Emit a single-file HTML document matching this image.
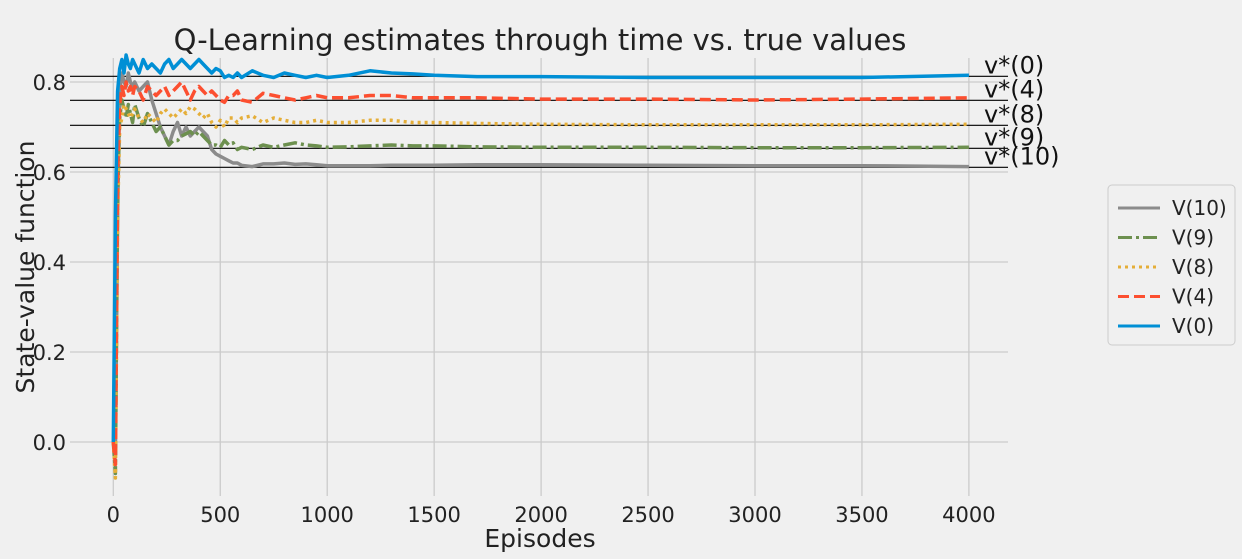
<!DOCTYPE html>
<html><head><meta charset="utf-8"><style>
body{margin:0;background:#f0f0f0;}
svg{display:block;font-family:"DejaVu Sans","Liberation Sans",sans-serif;}
</style></head><body>
<svg id="chart" width="1242" height="559" viewBox="0 0 1242 559">
<rect width="1242" height="559" fill="#f0f0f0"/>
<g id="grid"></g><g id="truelines"></g><g id="series"></g><g id="ticks"></g>
<text x="540" y="50" text-anchor="middle" font-size="29" fill="#222">Q-Learning estimates through time vs. true values</text>
<text x="540" y="547" text-anchor="middle" font-size="25" fill="#222">Episodes</text>
<text transform="translate(34,267) rotate(-90)" text-anchor="middle" font-size="25" fill="#222">State-value function</text>
<g id="legend"></g>
</svg>
<script>
const episodes=[0,10,20,30,40,50,60,70,80,90,100,120,140,160,180,200,220,240,260,280,300,320,340,360,380,400,420,440,460,480,500,520,540,560,580,600,650,700,750,800,850,900,950,1000,1100,1200,1300,1400,1500,1700,2000,2500,3000,3500,4000];
const v0=[0,0.5,0.78,0.83,0.85,0.82,0.86,0.84,0.83,0.85,0.84,0.82,0.85,0.83,0.84,0.83,0.82,0.84,0.85,0.83,0.84,0.85,0.84,0.83,0.84,0.85,0.84,0.83,0.82,0.83,0.825,0.81,0.815,0.81,0.82,0.81,0.825,0.815,0.81,0.82,0.815,0.81,0.815,0.81,0.815,0.825,0.82,0.818,0.815,0.812,0.812,0.81,0.81,0.81,0.815];
const v4=[0,-0.05,0.6,0.75,0.79,0.77,0.8,0.78,0.79,0.77,0.79,0.78,0.76,0.79,0.78,0.77,0.78,0.79,0.77,0.78,0.79,0.8,0.78,0.76,0.78,0.79,0.78,0.77,0.78,0.77,0.76,0.755,0.77,0.77,0.78,0.76,0.755,0.775,0.77,0.765,0.76,0.765,0.77,0.765,0.765,0.77,0.77,0.765,0.765,0.765,0.762,0.762,0.76,0.762,0.765];
const v8=[0,-0.08,0.5,0.7,0.72,0.75,0.74,0.73,0.72,0.73,0.74,0.72,0.71,0.73,0.72,0.71,0.73,0.74,0.73,0.72,0.73,0.74,0.73,0.745,0.74,0.73,0.72,0.73,0.71,0.7,0.715,0.7,0.72,0.72,0.71,0.72,0.725,0.71,0.72,0.715,0.71,0.71,0.715,0.71,0.71,0.715,0.715,0.71,0.71,0.708,0.706,0.705,0.705,0.705,0.706];
const v9=[0,-0.07,0.55,0.72,0.76,0.74,0.72,0.75,0.73,0.71,0.75,0.72,0.7,0.73,0.71,0.69,0.7,0.68,0.66,0.67,0.67,0.68,0.685,0.69,0.68,0.69,0.68,0.67,0.66,0.66,0.655,0.67,0.66,0.665,0.65,0.655,0.65,0.66,0.655,0.66,0.665,0.66,0.658,0.655,0.656,0.658,0.66,0.658,0.658,0.656,0.655,0.655,0.654,0.654,0.655];
const v10=[0,-0.03,0.5,0.78,0.82,0.8,0.79,0.82,0.8,0.79,0.8,0.78,0.79,0.8,0.76,0.73,0.7,0.68,0.66,0.69,0.71,0.68,0.7,0.68,0.69,0.7,0.69,0.68,0.65,0.64,0.635,0.63,0.625,0.62,0.62,0.615,0.612,0.618,0.618,0.62,0.617,0.618,0.616,0.614,0.614,0.614,0.615,0.615,0.615,0.616,0.616,0.615,0.614,0.614,0.612];
const trueValues=[0.8126,0.7593,0.7037,0.6526,0.6104];
const trueLabels=["v*(0)","v*(4)","v*(8)","v*(9)","v*(10)"];
const xTicks=[0,500,1000,1500,2000,2500,3000,3500,4000];
const yTicks=[0.0,0.2,0.4,0.6,0.8];
const yTickLabels=["0.0","0.2","0.4","0.6","0.8"];

const NS="http://www.w3.org/2000/svg";
const X=v=>113.3+v*0.2139;
const Y=v=>442-450*v;
const L=70,R=1008,T=58,B=496;
function mk(tag,attrs,parent){const e=document.createElementNS(NS,tag);for(const k in attrs)e.setAttribute(k,attrs[k]);parent.appendChild(e);return e;}
const grid=document.getElementById('grid'),ticks=document.getElementById('ticks');
xTicks.forEach(t=>{
  const g=mk('line',{x1:X(t),x2:X(t),y1:T,y2:B,stroke:'#cbcbcb','stroke-width':1.3},grid);
  
  
  const tx=mk('text',{x:X(t),y:522,'text-anchor':'middle','font-size':21,fill:'#222'},ticks);
  tx.textContent=t;
  
  
});
yTicks.forEach((t,i)=>{
  const g=mk('line',{x1:L,x2:R,y1:Y(t),y2:Y(t),stroke:'#cbcbcb','stroke-width':1.3},grid);
  
  
  const tx=mk('text',{x:66,y:Y(t)+8,'text-anchor':'end','font-size':21,fill:'#222'},ticks);
  tx.textContent=yTickLabels[i];
  
  
});
const tl=document.getElementById('truelines');
trueValues.forEach((v,i)=>{
  const l=mk('line',{x1:L,x2:R,y1:Y(v),y2:Y(v),stroke:'#000','stroke-width':1.2},tl);
  
  
  const tx=mk('text',{x:984,y:Y(v)-3,'font-size':24,fill:'#111'},tl);
  tx.textContent=trueLabels[i];
  
  
});
const seriesDefs=[
 {name:'V(10)',data:v10,color:'#8b8b8b',dash:''},
 {name:'V(9)',data:v9,color:'#6d904f',dash:'14 4 3 4'},
 {name:'V(8)',data:v8,color:'#e5ae38',dash:'3 4'},
 {name:'V(4)',data:v4,color:'#fc4f30',dash:'11 5'},
 {name:'V(0)',data:v0,color:'#008fd5',dash:''}
];
const sg=document.getElementById('series');
seriesDefs.forEach(s=>{
  const d=s.data.map((v,i)=>(i?'L':'M')+X(episodes[i]).toFixed(1)+','+Y(v).toFixed(1)).join('');
  const p=mk('path',{d:d,fill:'none',stroke:s.color,'stroke-width':3.5,'stroke-dasharray':s.dash,'stroke-linejoin':'round'},sg);
  
  
});
const lg=document.getElementById('legend');
mk('rect',{x:1108,y:185,width:127,height:160,rx:4,fill:'#f0f0f0',stroke:'#ccc','stroke-width':1},lg);
seriesDefs.forEach((s,i)=>{
  const y=208+i*29.5;
  const l=mk('line',{x1:1118,x2:1160,y1:y,y2:y,stroke:s.color,'stroke-width':3,'stroke-dasharray':s.dash},lg);
  
  
  const t=mk('text',{x:1172,y:y+7,'font-size':20,fill:'#222'},lg);
  t.textContent=s.name;
  
  
});
</script>
</body></html>
